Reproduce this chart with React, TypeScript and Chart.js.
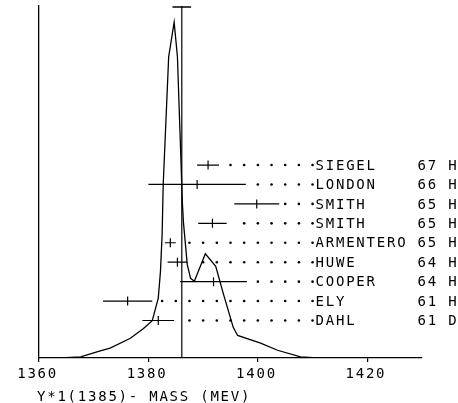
import React, { useEffect, useRef } from 'react';
import { Chart, registerables } from 'chart.js';

Chart.register(...registerables);

// Fitted mass distribution curve (MeV, arbitrary units)
const curveMass = [1360.5, 1363.9, 1367.6, 1371.2, 1373.0, 1376.7, 1379.1, 1380.7, 1381.8, 1382.2, 1382.5, 1382.7, 1383.7, 1384.7, 1385.3, 1385.9, 1386.2, 1386.4, 1387.1, 1387.7, 1388.4, 1390.4, 1392.3, 1393.7, 1395.5, 1396.3, 1400.5, 1403.6, 1407.8, 1410.9, 1430];
const curveValue = [0, 0, 0.3, 2.0, 2.8, 5.6, 8.4, 10.6, 17.0, 24.6, 34.9, 49.2, 85.5, 95.3, 85.5, 58.1, 44.1, 38.5, 26.5, 22.6, 21.8, 29.6, 26.0, 18.2, 8.7, 6.4, 4.2, 2.2, 0.3, 0, 0];

// Individual measurements
const expNames = ['SIEGEL', 'LONDON', 'SMITH', 'SMITH', 'ARMENTERO', 'HUWE', 'COOPER', 'ELY', 'DAHL'];
const expYears = ['67', '66', '65', '65', '65', '64', '64', '61', '61'];
const expTypes = ['H', 'H', 'H', 'H', 'H', 'H', 'H', 'H', 'D'];
const expMass = [1390.9, 1388.9, 1399.8, 1391.7, 1384.0, 1385.3, 1391.9, 1376.2, 1381.8];
const expErr = [2.0, 8.9, 4.1, 2.6, 1.0, 1.8, 6.1, 4.5, 2.9];

// Weighted average
const meanMass = 1386.1;
const meanErr = 1.7;

// Axis
const xTicks = [1360, 1380, 1400, 1420];
const xTitle = 'Y*1(1385)- MASS (MEV)';
const leaderEnd = 1410;
const leaderStep = 2.5;

const FONT = '14px "DejaVu Sans Mono"';
const PITCH = 10.2;

function drawSpaced(ctx: CanvasRenderingContext2D, text: string, x: number, y: number, pitch: number) {
  for (let i = 0; i < text.length; i++) {
    ctx.fillText(text[i], x + i * pitch, y);
  }
}

const textPlugin = {
  id: 'plotterText',
  afterDraw(chart: any) {
    const ctx = chart.ctx as CanvasRenderingContext2D;
    const xs = chart.scales.x;
    const rs = chart.scales.row;
    const bottom = chart.chartArea.bottom;
    ctx.save();
    ctx.font = FONT;
    ctx.fillStyle = '#000';
    ctx.textBaseline = 'middle';
    ctx.textAlign = 'left';
    const nameX = xs.getPixelForValue(leaderEnd) + 3;
    expNames.forEach((name, i) => {
      const y = rs.getPixelForValue(i) + 1;
      drawSpaced(ctx, name, nameX, y, PITCH);
      drawSpaced(ctx, expYears[i], nameX + 10 * PITCH, y, PITCH);
      drawSpaced(ctx, expTypes[i], nameX + 13 * PITCH, y, PITCH);
    });
    xTicks.forEach((v) => {
      const s = String(v);
      const cx = xs.getPixelForValue(v) - 2.5;
      const w = (s.length - 1) * PITCH + 8;
      drawSpaced(ctx, s, cx - w / 2, bottom + 16, PITCH);
    });
    drawSpaced(ctx, xTitle, 37, bottom + 39, PITCH);
    ctx.restore();
  },
};

export default function App() {
  const ref = useRef<HTMLCanvasElement | null>(null);

  useEffect(() => {
    if (!ref.current) return;
    const rows = expNames.map((_, i) => i);

    const barSets = rows.map((i) => ({
      data: [
        { x: expMass[i] - expErr[i], y: i },
        { x: expMass[i] + expErr[i], y: i },
      ],
      yAxisID: 'row',
      showLine: true,
      borderColor: '#000',
      borderWidth: 1.2,
      pointRadius: 0,
    }));

    const centers = {
      data: rows.map((i) => ({ x: expMass[i], y: i })),
      yAxisID: 'row',
      pointStyle: 'line',
      pointRotation: 90,
      pointRadius: 4.5,
      pointBorderColor: '#000',
      pointBorderWidth: 1.2,
      borderColor: '#000',
      showLine: false,
    };

    const dots: { x: number; y: number }[] = [];
    rows.forEach((i) => {
      for (let m = leaderEnd; m > expMass[i] + expErr[i] + 1; m -= leaderStep) {
        dots.push({ x: m, y: i });
      }
    });
    const leader = {
      data: dots,
      yAxisID: 'row',
      pointStyle: 'circle',
      pointRadius: 1.3,
      pointBackgroundColor: '#000',
      pointBorderWidth: 0,
      showLine: false,
    };

    const chart = new Chart(ref.current, {
      type: 'scatter',
      data: {
        datasets: [
          {
            data: curveMass.map((m, i) => ({ x: m, y: curveValue[i] })),
            showLine: true,
            borderColor: '#000',
            borderWidth: 1.3,
            pointRadius: 0,
            tension: 0,
            yAxisID: 'y',
          },
          {
            data: [
              { x: meanMass, y: 0 },
              { x: meanMass, y: 100 },
            ],
            showLine: true,
            borderColor: '#000',
            borderWidth: 1.2,
            pointRadius: 0,
            yAxisID: 'y',
          },
          {
            data: [
              { x: meanMass - meanErr, y: 99.6 },
              { x: meanMass + meanErr, y: 99.6 },
            ],
            showLine: true,
            borderColor: '#000',
            borderWidth: 1.5,
            pointRadius: 0,
            yAxisID: 'y',
          },
          ...barSets,
          centers,
          leader,
        ] as any,
      },
      options: {
        responsive: false,
        animation: false,
        layout: { padding: { top: 0, right: 36, left: 0, bottom: 0 } },
        plugins: { legend: { display: false }, tooltip: { enabled: false } },
        scales: {
          x: {
            type: 'linear',
            min: 1360,
            max: 1430,
            position: 'bottom',
            afterBuildTicks: (scale: any) => {
              scale.ticks = xTicks.map((v) => ({ value: v }));
            },
            afterFit: (scale: any) => {
              scale.height = 45;
            },
            grid: { drawOnChartArea: false, drawTicks: true, tickLength: 4, color: '#000', lineWidth: 1.2 },
            border: { display: true, color: '#000', width: 1.3 },
            ticks: { display: false },
          },
          y: {
            type: 'linear',
            min: 0,
            max: 100,
            position: 'left',
            afterFit: (scale: any) => {
              scale.width = 39;
            },
            grid: { display: false },
            border: { display: true, color: '#000', width: 1.3 },
            ticks: { display: false },
          },
          row: {
            type: 'linear',
            axis: 'y',
            position: 'right',
            display: false,
            reverse: true,
            min: -8.2,
            max: 9.93,
          },
        },
      } as any,
      plugins: [textPlugin],
    });
    return () => chart.destroy();
  }, []);

  return (
    <div style={{ position: 'absolute', left: 0, top: 0, width: 458, height: 403, background: '#fff' }}>
      <canvas ref={ref} width={458} height={403} style={{ width: 458, height: 403 }} />
    </div>
  );
}
